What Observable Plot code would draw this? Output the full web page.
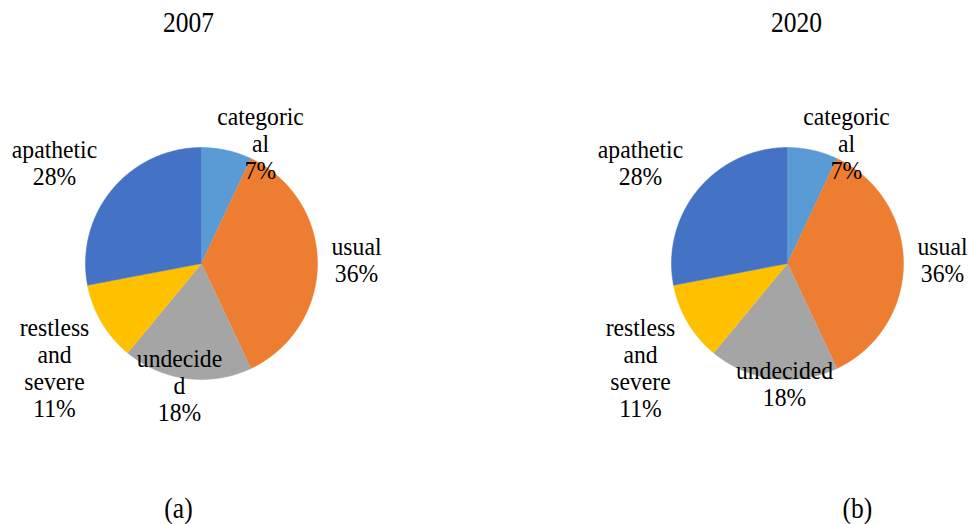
<!DOCTYPE html>
<html><head><meta charset="utf-8">
<script src="https://cdn.jsdelivr.net/npm/d3@7"></script>
<script src="https://cdn.jsdelivr.net/npm/@observablehq/plot@0.6"></script>
<style>body{margin:0;background:#fff} #chart svg{display:block}</style>
</head><body><div id="chart"></div>
<script>
// ---- data ----
const categories = ["categorical", "usual", "undecided", "restless and severe", "apathetic"];
const values2007 = [7, 36, 18, 11, 28];
const values2020 = [7, 36, 18, 11, 28];
const labels2007 = ["categoric\nal", "usual", "undecide\nd", "restless\nand\nsevere", "apathetic"];
const labels2020 = ["categoric\nal", "usual", "undecided", "restless\nand\nsevere", "apathetic"];
const years = ["2007", "2020"];
const panelTags = ["(a)", "(b)"];
const colors = ["#5B9BD5", "#ED7D31", "#A5A5A5", "#FFC000", "#4472C4"];

// ---- layout ----
const W = 969, H = 524, R = 116, titleY = 22, tagY = 508;
const FONT = "Liberation Serif";
const pies = [
  {year: years[0], tag: panelTags[0], values: values2007, labels: labels2007, cx: 201, cy: 263, titleX: 188, tagX: 178,
   labelPolar: [[1.153, 26.2], [1.336, 88.7], [1.069, 190.2], [1.553, 234.7], [1.538, 304.5]]},
  {year: years[1], tag: panelTags[1], values: values2020, labels: labels2020, cx: 787, cy: 263, titleX: 796, tagX: 857,
   labelPolar: [[1.153, 26.2], [1.336, 88.7], [1.039, 181.4], [1.553, 234.7], [1.538, 304.5]]}
];

const sliceRows = [], labelRows = [];
pies.forEach((p) => {
  const total = d3.sum(p.values);
  let acc = 0;
  p.values.forEach((v, i) => {
    const a0 = acc / total * 2 * Math.PI, a1 = (acc + v) / total * 2 * Math.PI;
    acc += v;
    const key = p.year + "|" + categories[i];
    sliceRows.push({key, cat: categories[i], x: p.cx, y: p.cy});
    const n = Math.max(2, Math.ceil((a1 - a0) / (Math.PI / 360)));
    for (let k = 0; k <= n; k++) {
      const a = a0 + (a1 - a0) * k / n;
      sliceRows.push({key, cat: categories[i], x: p.cx + R * Math.sin(a), y: p.cy - R * Math.cos(a)});
    }
    const [f, deg] = p.labelPolar[i];
    const la = deg * Math.PI / 180;
    labelRows.push({text: p.labels[i] + "\n" + Math.round(v / total * 100) + "%",
                    x: Math.round(p.cx + R * f * Math.sin(la)), y: Math.round(p.cy - R * f * Math.cos(la))});
  });
});

const svg = Plot.plot({
  width: W, height: H, margin: 0,
  x: {domain: [0, W], range: [0, W], axis: null},
  y: {domain: [0, H], range: [0, H], axis: null},
  color: {domain: categories, range: colors},
  style: {fontFamily: FONT, background: "#fff", color: "#000"},
  marks: [
    Plot.line(sliceRows, {x: "x", y: "y", z: "key", fill: "cat", stroke: "cat", strokeWidth: 0.5}),
    Plot.text(labelRows, {x: "x", y: "y", text: "text", fontSize: 26, lineHeight: 1.04, fill: "#000", fontFamily: FONT, className: "slicelabel"}),
    Plot.text(pies, {x: "titleX", y: () => titleY, text: "year", fontSize: 29, fill: "#000", fontFamily: FONT}),
    Plot.text(pies, {x: "tagX", y: () => tagY, text: "tag", fontSize: 29, fill: "#000", fontFamily: FONT})
  ]
});
svg.querySelectorAll("text").forEach((t) => {
  const tr = t.getAttribute("transform");
  const isLabel = t.parentNode && t.parentNode.classList && t.parentNode.classList.contains("slicelabel");
  if (tr && tr.includes("translate")) t.setAttribute("transform", tr + (isLabel ? " scale(0.91,1)" : " scale(0.88,1)"));
});
document.getElementById("chart").appendChild(svg);
</script>
</body></html>
